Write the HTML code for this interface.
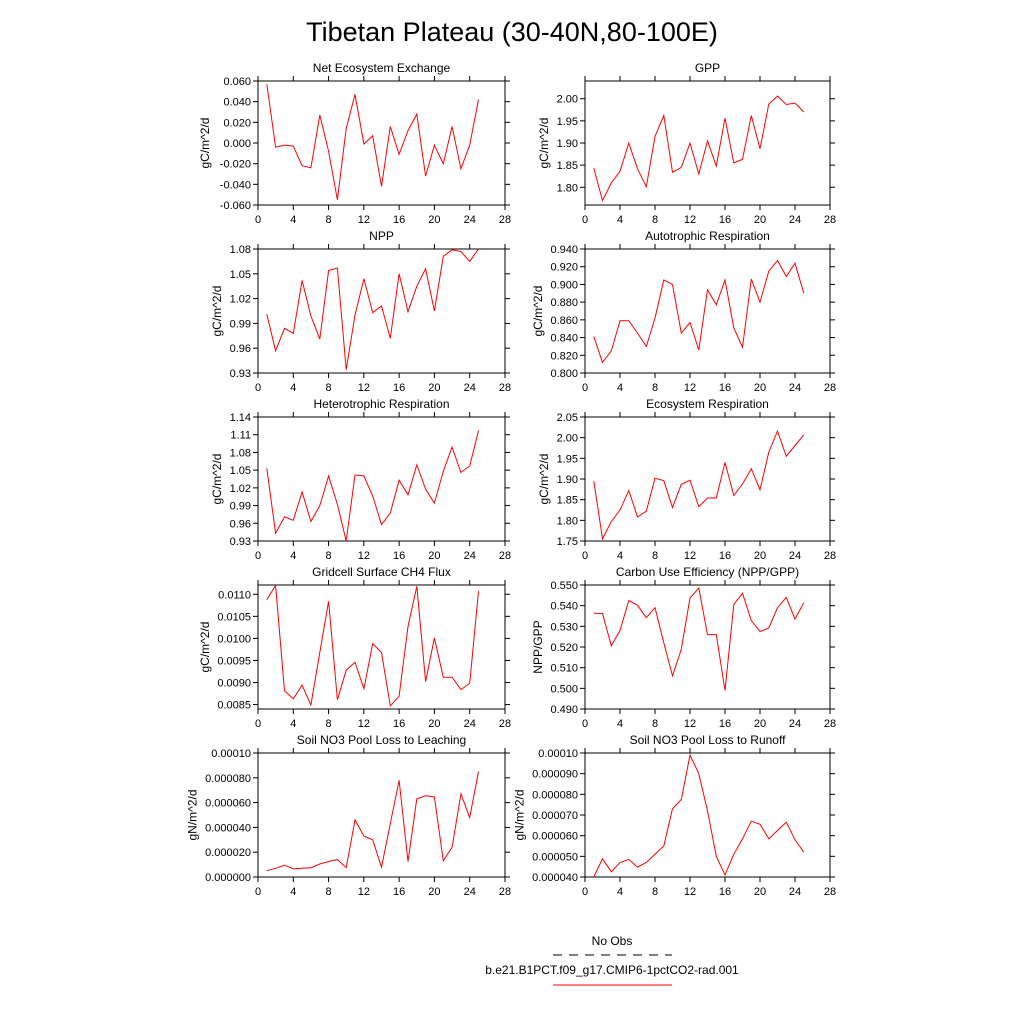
<!DOCTYPE html>
<html><head><meta charset="utf-8">
<style>
html,body{margin:0;padding:0;background:#fff;}
svg{display:block;font-family:"Liberation Sans",sans-serif;}
</style></head>
<body>
<svg id="chart" width="1024" height="1024" viewBox="0 0 1024 1024" xmlns="http://www.w3.org/2000/svg">
<text x="512" y="41" text-anchor="middle" font-size="27">Tibetan Plateau (30-40N,80-100E)</text>
<g id="panels"></g>
<g>
<text x="612" y="945" text-anchor="middle" font-size="12">No Obs</text>
<line x1="553" y1="955" x2="672" y2="955" stroke="#000" stroke-width="1" stroke-dasharray="9,7"/>
<text x="612" y="974" text-anchor="middle" font-size="12">b.e21.B1PCT.f09_g17.CMIP6-1pctCO2-rad.001</text>
<line x1="553" y1="985" x2="672" y2="985" stroke="#f00" stroke-width="1"/>
</g>
</svg>
<script>
const years = [1,2,3,4,5,6,7,8,9,10,11,12,13,14,15,16,17,18,19,20,21,22,23,24,25];
const xTicks = [0,4,8,12,16,20,24,28];
const neeValues = [0.057,-0.004,-0.002,-0.003,-0.022,-0.024,0.027,-0.008,-0.055,0.014,0.047,-0.001,0.007,-0.042,0.016,-0.011,0.012,0.028,-0.032,-0.002,-0.020,0.016,-0.025,-0.002,0.042];
const gppValues = [1.843,1.770,1.810,1.836,1.900,1.842,1.801,1.915,1.962,1.834,1.845,1.900,1.830,1.905,1.848,1.956,1.855,1.863,1.962,1.887,1.988,2.006,1.987,1.990,1.970];
const nppValues = [1.001,0.957,0.984,0.978,1.042,0.999,0.971,1.054,1.057,0.934,1.000,1.044,1.003,1.011,0.972,1.050,1.004,1.035,1.056,1.005,1.071,1.079,1.077,1.065,1.080];
const arValues = [0.841,0.812,0.825,0.859,0.859,0.845,0.830,0.862,0.905,0.900,0.845,0.857,0.826,0.894,0.877,0.905,0.851,0.829,0.906,0.880,0.915,0.927,0.909,0.924,0.890];
const hrValues = [1.053,0.943,0.971,0.965,1.013,0.963,0.990,1.040,0.992,0.930,1.042,1.040,1.006,0.958,0.977,1.033,1.008,1.059,1.018,0.994,1.048,1.089,1.046,1.057,1.117];
const erValues = [1.895,1.755,1.797,1.825,1.872,1.808,1.822,1.902,1.896,1.831,1.887,1.897,1.833,1.854,1.854,1.940,1.860,1.888,1.925,1.874,1.965,2.016,1.955,1.981,2.007];
const ch4Values = [0.01088,0.01120,0.00881,0.00863,0.00894,0.00849,0.00968,0.01084,0.00861,0.00928,0.00946,0.00886,0.00988,0.00968,0.00847,0.00869,0.01027,0.01118,0.00902,0.01001,0.00912,0.00912,0.00884,0.00898,0.01107];
const cueValues = [0.5363,0.5362,0.5206,0.5280,0.5425,0.5402,0.5342,0.5390,0.5220,0.5060,0.5190,0.5437,0.5485,0.5260,0.5260,0.4990,0.5405,0.5460,0.5328,0.5275,0.5292,0.5390,0.5440,0.5335,0.5415];
const leachValues = [0.000005,0.000007,0.0000095,0.0000065,0.000007,0.0000075,0.0000105,0.0000125,0.000014,0.0000075,0.000046,0.000033,0.000030,0.000008,0.000043,0.000078,0.0000125,0.000063,0.0000655,0.0000645,0.000013,0.000024,0.000067,0.000048,0.000085];
const runoffValues = [0.000040,0.0000488,0.0000425,0.000047,0.0000485,0.0000448,0.000047,0.000051,0.000055,0.000073,0.0000775,0.000099,0.000090,0.000072,0.000050,0.000041,0.000051,0.0000585,0.000067,0.0000655,0.0000585,0.0000625,0.0000665,0.000058,0.000052];
const neeTicks = ["0.060","0.040","0.020","0.000","-0.020","-0.040","-0.060"];
const gppTicks = ["1.80","1.85","1.90","1.95","2.00"];
const nppTicks = ["0.93","0.96","0.99","1.02","1.05","1.08"];
const arTicks = ["0.800","0.820","0.840","0.860","0.880","0.900","0.920","0.940"];
const hrTicks = ["0.93","0.96","0.99","1.02","1.05","1.08","1.11","1.14"];
const erTicks = ["1.75","1.80","1.85","1.90","1.95","2.00","2.05"];
const ch4Ticks = ["0.0085","0.0090","0.0095","0.0100","0.0105","0.0110"];
const cueTicks = ["0.490","0.500","0.510","0.520","0.530","0.540","0.550"];
const leachTicks = ["0.000000","0.000020","0.000040","0.000060","0.000080","0.00010"];
const runoffTicks = ["0.000040","0.000050","0.000060","0.000070","0.000080","0.000090","0.00010"];

const NS = "http://www.w3.org/2000/svg";
const root = document.getElementById('panels');
function mk(tag, attrs, parent){
  const e = document.createElementNS(NS, tag);
  for (const k in attrs) e.setAttribute(k, attrs[k]);
  parent.appendChild(e);
  return e;
}
const panels = [
  {name:'nee', title:'Net Ecosystem Exchange', yt:'gC/m^2/d', vals:neeValues, ticks:neeTicks, ymin:-0.060, ymax:0.060, col:0, row:0},
  {name:'gpp', title:'GPP', yt:'gC/m^2/d', vals:gppValues, ticks:gppTicks, ymin:1.76, ymax:2.04, col:1, row:0},
  {name:'npp', title:'NPP', yt:'gC/m^2/d', vals:nppValues, ticks:nppTicks, ymin:0.93, ymax:1.08, col:0, row:1},
  {name:'ar', title:'Autotrophic Respiration', yt:'gC/m^2/d', vals:arValues, ticks:arTicks, ymin:0.80, ymax:0.94, col:1, row:1},
  {name:'hr', title:'Heterotrophic Respiration', yt:'gC/m^2/d', vals:hrValues, ticks:hrTicks, ymin:0.93, ymax:1.14, col:0, row:2},
  {name:'er', title:'Ecosystem Respiration', yt:'gC/m^2/d', vals:erValues, ticks:erTicks, ymin:1.75, ymax:2.05, col:1, row:2},
  {name:'ch4', title:'Gridcell Surface CH4 Flux', yt:'gC/m^2/d', vals:ch4Values, ticks:ch4Ticks, ymin:0.00840, ymax:0.01121, col:0, row:3},
  {name:'cue', title:'Carbon Use Efficiency (NPP/GPP)', yt:'NPP/GPP', vals:cueValues, ticks:cueTicks, ymin:0.490, ymax:0.550, col:1, row:3},
  {name:'leach', title:'Soil NO3 Pool Loss to Leaching', yt:'gN/m^2/d', vals:leachValues, ticks:leachTicks, ymin:0, ymax:0.0001, col:0, row:4},
  {name:'runoff', title:'Soil NO3 Pool Loss to Runoff', yt:'gN/m^2/d', vals:runoffValues, ticks:runoffTicks, ymin:0.00004, ymax:0.0001, col:1, row:4}
];
const colX = [258, 585], colW = [247, 245];
const rowY = [81, 249, 417, 585, 753], H = 124;
panels.forEach(p => {
  const x0 = colX[p.col], w = colW[p.col], y0 = rowY[p.row];
  const sx = v => x0 + v / 28 * w;
  const sy = v => y0 + H - (v - p.ymin) / (p.ymax - p.ymin) * H;
  const g = mk('g', {}, root);
  
  
  const t = mk('text', {x: x0 + w/2, y: y0 - 9, 'text-anchor':'middle', 'font-size':12}, g);
  t.textContent = p.title;
  
  
  const fr = mk('rect', {x:x0, y:y0, width:w, height:H, fill:'none', stroke:'#000', 'stroke-width':1}, g);
  
  
  xTicks.forEach(v => {
    const X = sx(v);
    mk('line', {x1:X, y1:y0+H, x2:X, y2:y0+H+5, stroke:'#000'}, g);
    mk('line', {x1:X, y1:y0, x2:X, y2:y0-5, stroke:'#000'}, g);
    const tl = mk('text', {x:X, y:y0+H+18, 'text-anchor':'middle', 'font-size':11}, g);
    tl.textContent = String(v);
    
    
  });
  p.ticks.forEach(lbl => {
    const Y = sy(parseFloat(lbl));
    mk('line', {x1:x0, y1:Y, x2:x0-5, y2:Y, stroke:'#000'}, g);
    mk('line', {x1:x0+w, y1:Y, x2:x0+w+5, y2:Y, stroke:'#000'}, g);
    const tl = mk('text', {x:x0-7, y:Y+4, 'text-anchor':'end', 'font-size':11}, g);
    tl.textContent = lbl;
    
    
  });
  const longest = Math.max(...p.ticks.map(s => s.length));
  const yx = x0 - 12 - longest * 6.2;
  const yt = mk('text', {x:yx, y:y0+H/2, 'text-anchor':'middle', 'font-size':12, transform:'rotate(-90 '+yx+' '+(y0+H/2)+')'}, g);
  yt.textContent = p.yt;
  
  
  const pts = years.map((yr, i) => sx(yr).toFixed(1) + ',' + sy(p.vals[i]).toFixed(1)).join(' ');
  const ln = mk('polyline', {points:pts, fill:'none', stroke:'#f00', 'stroke-width':1}, g);
  
  
});
</script>
</body></html>
